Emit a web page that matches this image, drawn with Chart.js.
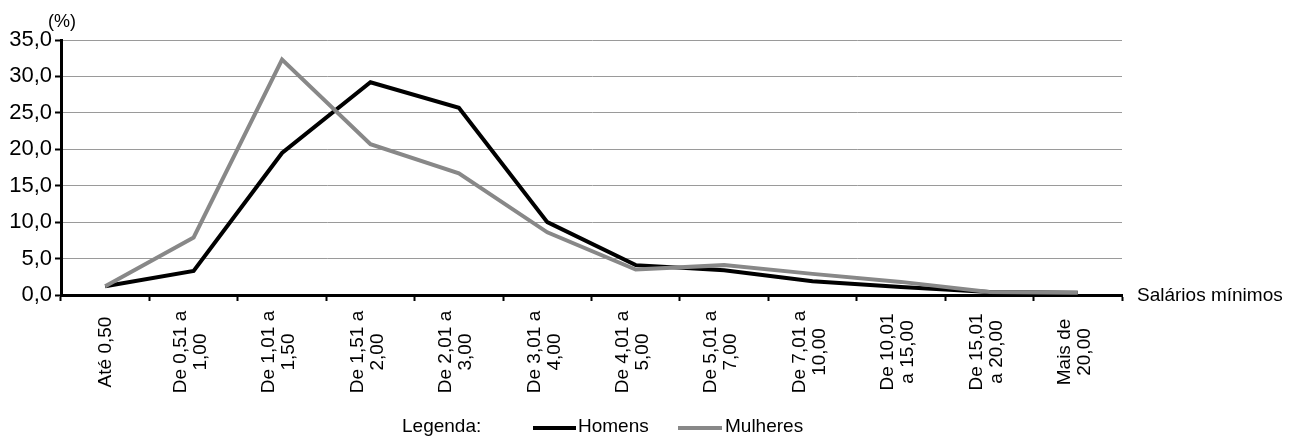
<!DOCTYPE html>
<html lang="pt-BR">
<head>
<meta charset="utf-8">
<script src="https://cdn.jsdelivr.net/npm/chart.js@4.4.1/dist/chart.umd.min.js"></script>
<style>
  html, body { margin: 0; padding: 0; background: #fff; }
  #wrap { width: 1297px; height: 436px; position: relative; }
</style>
</head>
<body>
<div id="wrap"><canvas id="grafico"></canvas></div>
<script>
// Faixas de rendimento (salários mínimos), cada rótulo em uma ou duas linhas
const faixas = [
  ["Até 0,50"],
  ["De 0,51 a", "1,00"],
  ["De 1,01 a", "1,50"],
  ["De 1,51 a", "2,00"],
  ["De 2,01 a", "3,00"],
  ["De 3,01 a", "4,00"],
  ["De 4,01 a", "5,00"],
  ["De 5,01 a", "7,00"],
  ["De 7,01 a", "10,00"],
  ["De 10,01", "a 15,00"],
  ["De 15,01", "a 20,00"],
  ["Mais de", "20,00"]
];

// Distribuição percentual por sexo
const homens   = [1.2, 3.3, 19.5, 29.2, 25.7, 10.0, 4.1, 3.4, 1.9, 1.1, 0.4, 0.3];
const mulheres = [1.2, 7.9, 32.3, 20.7, 16.7, 8.6, 3.5, 4.1, 2.9, 1.8, 0.4, 0.3];

// Marcas do eixo vertical
const marcasY = [0, 5, 10, 15, 20, 25, 30, 35];

const FONTE = "'Liberation Sans', Arial, sans-serif";

// Textos avulsos: unidade, título do eixo X, rótulos rotacionados e legenda
const textos = {
  id: 'textos',
  afterDraw(chart) {
    const ctx = chart.ctx;
    const x = chart.scales.x;
    ctx.save();
    ctx.fillStyle = '#000';

    ctx.font = '18px ' + FONTE;
    ctx.textAlign = 'left';
    ctx.textBaseline = 'middle';
    ctx.fillText('(%)', 48, 22);

    ctx.font = '19px ' + FONTE;
    ctx.fillText('Salários mínimos', 1137, 296);

    // rótulos das faixas, rotacionados e centrados
    ctx.textAlign = 'center';
    faixas.forEach((linhas, i) => {
      const cx = x.getPixelForValue(i);
      const n = linhas.length;
      linhas.forEach((txt, j) => {
        const dx = (j - (n - 1) / 2) * 20 + (n > 1 ? -3 : 1);
        ctx.save();
        ctx.translate(cx + dx, 352);
        ctx.rotate(-Math.PI / 2);
        ctx.fillText(txt, 0, 0);
        ctx.restore();
      });
    });

    // legenda
    const ds = chart.data.datasets;
    ctx.textAlign = 'left';
    ctx.fillText('Legenda:', 402, 427);
    const itens = [
      { x0: 533, x1: 576, tx: 578, d: ds[0] },
      { x0: 678, x1: 722, tx: 725, d: ds[1] }
    ];
    itens.forEach(it => {
      ctx.strokeStyle = it.d.borderColor;
      ctx.lineWidth = 4;
      ctx.beginPath();
      ctx.moveTo(it.x0, 428);
      ctx.lineTo(it.x1, 428);
      ctx.stroke();
      ctx.fillText(it.d.label, it.tx, 427);
    });
    ctx.restore();
  }
};

new Chart(document.getElementById('grafico'), {
  type: 'line',
  data: {
    labels: faixas.map(l => l.join(' ')),
    datasets: [
      {
        label: 'Homens',
        data: homens,
        borderColor: '#000000',
        backgroundColor: '#000000',
        borderWidth: 4,
        pointRadius: 0,
        tension: 0,
        order: 1
      },
      {
        label: 'Mulheres',
        data: mulheres,
        borderColor: '#888888',
        backgroundColor: '#888888',
        borderWidth: 4,
        pointRadius: 0,
        tension: 0,
        order: 0
      }
    ]
  },
  options: {
    responsive: true,
    maintainAspectRatio: false,
    animation: false,
    layout: { padding: { top: 40, right: 175, bottom: 0, left: 0 } },
    plugins: {
      legend: { display: false },
      tooltip: { enabled: false },
      title: { display: false }
    },
    scales: {
      x: {
        type: 'category',
        offset: true,
        grid: {
          offset: true,
          drawOnChartArea: false,
          drawTicks: true,
          tickLength: 6,
          tickWidth: 2,
          tickColor: '#000'
        },
        border: { color: '#000', width: 3 },
        ticks: { display: false },
        afterFit(s) { s.height = 141; }
      },
      y: {
        min: 0,
        max: 35,
        afterBuildTicks(s) { s.ticks = marcasY.map(v => ({ value: v })); },
        ticks: {
          color: '#000',
          font: { size: 22, family: FONTE },
          padding: 3,
          callback: v => v.toFixed(1).replace('.', ',')
        },
        grid: {
          color: '#9a9a9a',
          lineWidth: 1,
          tickColor: '#000',
          tickLength: 6,
          tickWidth: 2
        },
        border: { color: '#000', width: 3 },
        afterFit(s) { s.width = 61; }
      }
    }
  },
  plugins: [textos]
});
</script>
</body>
</html>
